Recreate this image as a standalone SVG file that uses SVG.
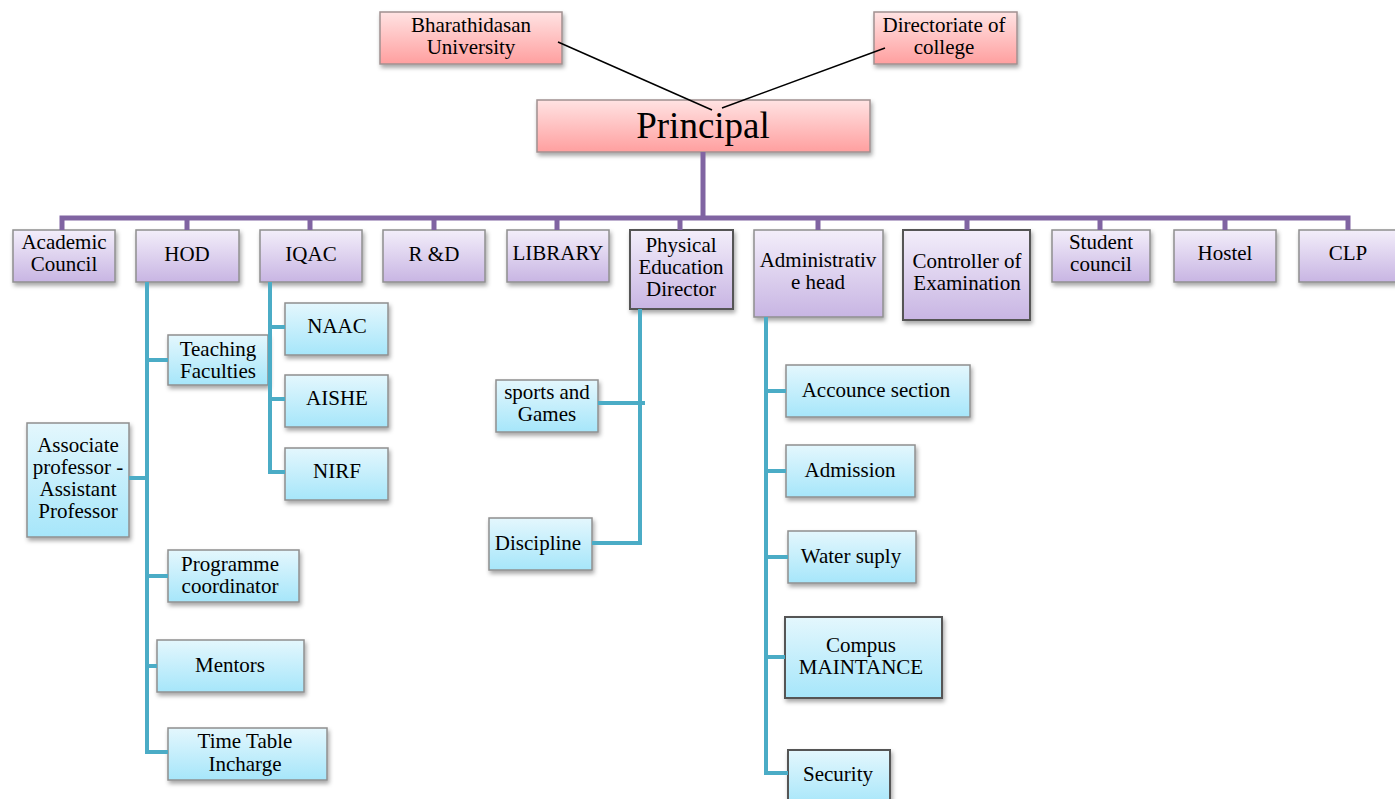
<svg xmlns="http://www.w3.org/2000/svg" width="1395" height="799" viewBox="0 0 1395 799">
<defs>
<linearGradient id="gPink" x1="0" y1="0" x2="0" y2="1"><stop offset="0" stop-color="#ffe3e3"/><stop offset="1" stop-color="#ff9f9f"/></linearGradient>
<linearGradient id="gPurple" x1="0" y1="0" x2="0" y2="1"><stop offset="0" stop-color="#f3eefa"/><stop offset="1" stop-color="#c8b5e3"/></linearGradient>
<linearGradient id="gCyan" x1="0" y1="0" x2="0" y2="1"><stop offset="0" stop-color="#e4f7fd"/><stop offset="1" stop-color="#a6e6fa"/></linearGradient>
<filter id="sh" x="-10%" y="-10%" width="125%" height="140%"><feDropShadow dx="1.5" dy="3" stdDeviation="2" flood-color="#000" flood-opacity="0.35"/></filter>
</defs>
<style>
text{font-family:"Liberation Serif","Times New Roman",serif;font-size:21px;fill:#000;text-anchor:middle}
.pink{fill:url(#gPink);stroke:#a09090;stroke-width:1.5;filter:url(#sh)}
.pur{fill:url(#gPurple);stroke:#8f8f8f;stroke-width:1.5;filter:url(#sh)}
.purd{fill:url(#gPurple);stroke:#555;stroke-width:2;filter:url(#sh)}
.cy{fill:url(#gCyan);stroke:#8f8f8f;stroke-width:1.5;filter:url(#sh)}
.cyd{fill:url(#gCyan);stroke:#555;stroke-width:2;filter:url(#sh)}
.lp{stroke:#8064a2;stroke-width:5;fill:none}
.lc{stroke:#4bacc6;stroke-width:4;fill:none}
.lk{stroke:#000;stroke-width:1.5;fill:none}
</style>
<g id="n-bharathidasan"><rect class="pink" x="380" y="12" width="182" height="52"/><text x="471" y="32">Bharathidasan</text><text x="471" y="54">University</text></g>
<g id="n-directorate"><rect class="pink" x="874" y="12" width="143" height="52"/><text x="944" y="32">Directoriate of</text><text x="944" y="54">college</text></g>
<g id="n-principal"><rect class="pink" x="537" y="100" width="333" height="52"/><text x="703" y="138" style="font-size:37px">Principal</text></g>
<g id="n-academic"><rect class="pur" x="13" y="230" width="102" height="52"/><text x="64" y="249">Academic</text><text x="64" y="271">Council</text></g>
<g id="n-hod"><rect class="pur" x="136" y="230" width="103" height="52"/><text x="187" y="261">HOD</text></g>
<g id="n-iqac"><rect class="pur" x="260" y="230" width="102" height="52"/><text x="311" y="261">IQAC</text></g>
<g id="n-rd"><rect class="pur" x="383" y="230" width="102" height="52"/><text x="434" y="261">R &amp;D</text></g>
<g id="n-library"><rect class="pur" x="507" y="230" width="102" height="52"/><text x="558" y="260">LIBRARY</text></g>
<g id="n-ped"><rect class="purd" x="630" y="230" width="103" height="79"/><text x="681" y="252">Physical</text><text x="681" y="274">Education</text><text x="681" y="296">Director</text></g>
<g id="n-admin"><rect class="pur" x="754" y="230" width="129" height="87"/><text x="818" y="267">Administrativ</text><text x="818" y="289">e head</text></g>
<g id="n-coe"><rect class="purd" x="903" y="230" width="127" height="90"/><text x="967" y="268">Controller of</text><text x="967" y="290">Examination</text></g>
<g id="n-student"><rect class="pur" x="1052" y="230" width="98" height="52"/><text x="1101" y="249">Student</text><text x="1101" y="271">council</text></g>
<g id="n-hostel"><rect class="pur" x="1174" y="230" width="102" height="52"/><text x="1225" y="260">Hostel</text></g>
<g id="n-clp"><rect class="pur" x="1299" y="230" width="100" height="52"/><text x="1348" y="260">CLP</text></g>
<g id="n-teaching"><rect class="cy" x="168" y="335" width="100" height="50"/><text x="218" y="356">Teaching</text><text x="218" y="378">Faculties</text></g>
<g id="n-associate"><rect class="cy" x="27" y="423" width="102" height="114"/><text x="78" y="452">Associate</text><text x="78" y="474">professor -</text><text x="78" y="496">Assistant</text><text x="78" y="518">Professor</text></g>
<g id="n-programme"><rect class="cy" x="168" y="550" width="131" height="52"/><text x="230" y="571">Programme</text><text x="230" y="593">coordinator</text></g>
<g id="n-mentors"><rect class="cy" x="157" y="640" width="147" height="52"/><text x="230" y="672">Mentors</text></g>
<g id="n-timetable"><rect class="cy" x="168" y="728" width="159" height="52"/><text x="245" y="748">Time Table</text><text x="245" y="771">Incharge</text></g>
<g id="n-naac"><rect class="cy" x="285" y="303" width="103" height="52"/><text x="337" y="333">NAAC</text></g>
<g id="n-aishe"><rect class="cy" x="285" y="375" width="103" height="52"/><text x="337" y="405">AISHE</text></g>
<g id="n-nirf"><rect class="cy" x="285" y="448" width="103" height="52"/><text x="337" y="478">NIRF</text></g>
<g id="n-sports"><rect class="cy" x="496" y="380" width="102" height="52"/><text x="547" y="399">sports and</text><text x="547" y="421">Games</text></g>
<g id="n-discipline"><rect class="cy" x="489" y="518" width="103" height="52"/><text x="538" y="550">Discipline</text></g>
<g id="n-accounce"><rect class="cy" x="786" y="365" width="184" height="52"/><text x="876" y="397">Accounce section</text></g>
<g id="n-admission"><rect class="cy" x="786" y="445" width="129" height="52"/><text x="850" y="477">Admission</text></g>
<g id="n-water"><rect class="cy" x="788" y="531" width="128" height="52"/><text x="851" y="563">Water suply</text></g>
<g id="n-campus"><rect class="cyd" x="785" y="617" width="157" height="81"/><text x="861" y="652">Compus</text><text x="861" y="674">MAINTANCE</text></g>
<g id="n-security"><rect class="cyd" x="788" y="750" width="102" height="56"/><text x="838" y="781">Security</text></g>
<g id="connectors">
<line class="lk" x1="558" y1="42" x2="712" y2="110"/>
<line class="lk" x1="885" y1="48" x2="722" y2="108"/>
<path class="lp" d="M703 152 V218 M62 230 V218 H1348 V230 M187 218 V230 M310 218 V230 M434 218 V230 M557 218 V230 M680 218 V230 M818 218 V230 M967 218 V230 M1100 218 V230 M1225 218 V230"/>
<path class="lc" d="M147 282 V752 H168 M147 360 H168 M129 478 H147 M147 576 H168 M147 666 H157"/>
<path class="lc" d="M270 282 V472 H285 M270 327 H285 M270 399 H285"/>
<path class="lc" d="M640 309 V543 H592 M598 403 H645"/>
<path class="lc" d="M766 317 V773 H788 M766 391 H786 M766 471 H786 M766 557 H788 M766 657 H785"/>
</g>
</svg>
